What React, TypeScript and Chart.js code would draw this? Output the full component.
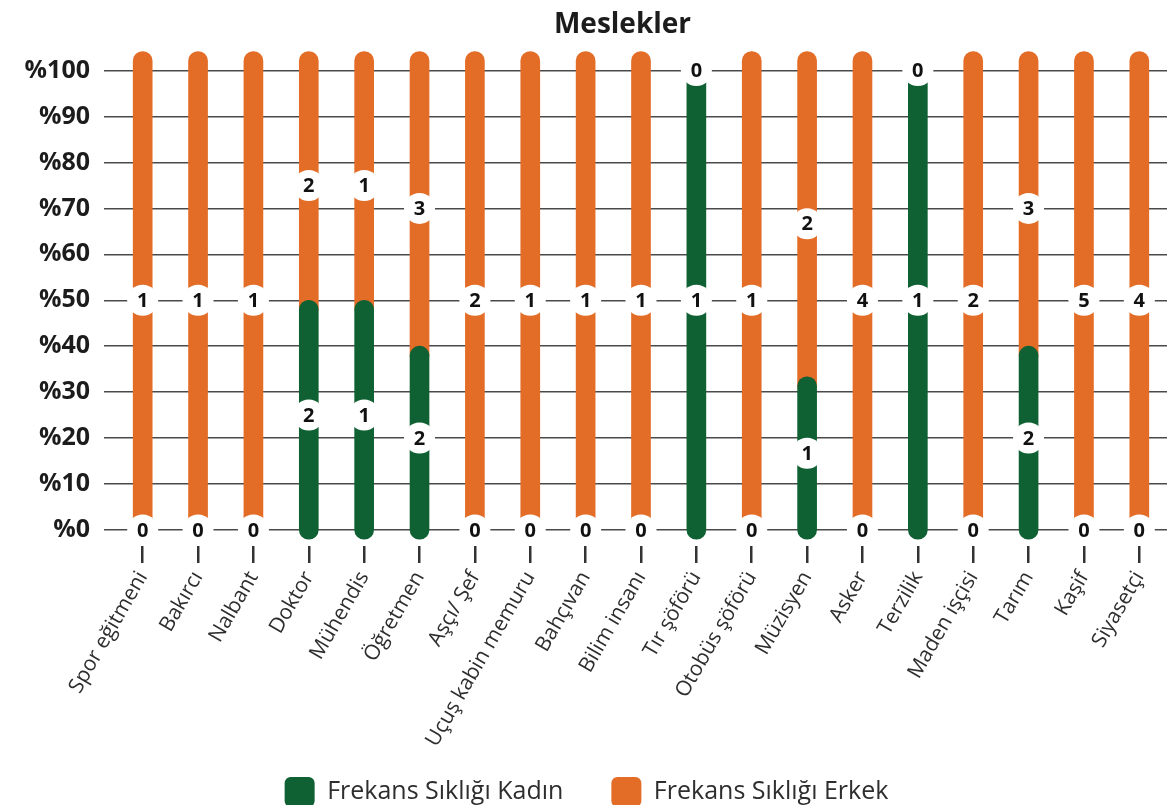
import React, { useEffect, useRef } from "react";
import { Chart, registerables } from "chart.js";

Chart.register(...registerables);

const categories = [
  "Spor eğitmeni",
  "Bakırcı",
  "Nalbant",
  "Doktor",
  "Mühendis",
  "Öğretmen",
  "Aşçı/ Şef",
  "Uçuş kabin memuru",
  "Bahçıvan",
  "Bilim insanı",
  "Tır şöförü",
  "Otobüs şöförü",
  "Müzisyen",
  "Asker",
  "Terzilik",
  "Maden işçisi",
  "Tarım",
  "Kaşif",
  "Siyasetçi",
];

const womenCounts = [0, 0, 0, 2, 1, 2, 0, 0, 0, 0, 1, 0, 1, 0, 1, 0, 2, 0, 0];
const menCounts = [1, 1, 1, 2, 1, 3, 2, 1, 1, 1, 0, 1, 2, 4, 0, 2, 3, 5, 4];

const yTickValues = [0, 10, 20, 30, 40, 50, 60, 70, 80, 90, 100];
const seriesLabels = ["Frekans Sıklığı Kadın", "Frekans Sıklığı Erkek"];
const chartTitle = "Meslekler";

const GREEN = "#0f6133";
const ORANGE = "#e36c26";
const TEXT = "#1c1c1c";
const SOFT_TEXT = "#2e2e2e";
const FONT = "'Open Sans', 'Noto Sans', sans-serif";

export default function App() {
  const canvasRef = useRef<HTMLCanvasElement>(null);

  useEffect(() => {
    if (!canvasRef.current) return;
    const totals = womenCounts.map((w, i) => w + menCounts[i]);
    const womenPct = womenCounts.map((w, i) => (totals[i] ? (w / totals[i]) * 100 : 0));
    const menPct = menCounts.map((m, i) => (totals[i] ? (m / totals[i]) * 100 : 0));

    const capPlugin = {
      id: "roundCaps",
      afterDatasetsUpdate(chart: any) {
        chart.data.datasets.forEach((ds: any, di: number) => {
          const meta = chart.getDatasetMeta(di);
          meta.data.forEach((el: any, i: number) => {
            if (!ds.data[i]) return;
            el.base += 10;
            if (di === 1) el.y -= 19;
          });
        });
      },
    };

    const layoutTweaks = {
      id: "layoutTweaks",
      afterLayout(chart: any) {
        const t = chart.titleBlock;
        if (t) t.left += 72;
        // let the rotated category labels run into the legend band, as in the original
        if (chart.scales.x) chart.scales.x.bottom = chart.height;
      },
    };

    const labelPlugin = {
      id: "segmentLabels",
      afterDatasetsDraw(chart: any) {
        const ctx = chart.ctx;
        const xs = chart.scales.x;
        const ys = chart.scales.y;
        ctx.save();
        ctx.font = `bold 20px ${FONT}`;
        ctx.textAlign = "center";
        ctx.textBaseline = "middle";
        categories.forEach((_, i) => {
          const x = xs.getPixelForValue(i);
          const segs: [number, number, number][] = [
            [0, womenPct[i], womenCounts[i]],
            [womenPct[i], menPct[i], menCounts[i]],
          ];
          segs.forEach(([start, pct, count]) => {
            const y = ys.getPixelForValue(start + pct / 2);
            ctx.beginPath();
            ctx.arc(x, y, 15.5, 0, Math.PI * 2);
            ctx.fillStyle = "#ffffff";
            ctx.fill();
            ctx.fillStyle = "#111111";
            ctx.fillText(String(count), x, y + 1);
          });
        });
        ctx.restore();
      },
    };

    const chart = new Chart(canvasRef.current, {
      type: "bar",
      data: {
        labels: categories,
        datasets: [
          {
            label: seriesLabels[0],
            data: womenPct,
            backgroundColor: GREEN,
            borderSkipped: false,
            borderRadius: { topLeft: 9.5, topRight: 9.5, bottomLeft: 9.5, bottomRight: 9.5 },
            barThickness: 19,
            clip: false,
          },
          {
            label: seriesLabels[1],
            data: menPct,
            backgroundColor: ORANGE,
            borderSkipped: false,
            borderRadius: { topLeft: 9.5, topRight: 9.5, bottomLeft: 0, bottomRight: 0 },
            barThickness: 19,
            clip: false,
          },
        ] as any,
      },
      options: {
        animation: false,
        responsive: true,
        maintainAspectRatio: false,
        layout: { padding: { left: 0, right: -6, top: 0, bottom: -12 } },
        plugins: {
          title: {
            display: true,
            text: chartTitle,
            color: TEXT,
            font: { family: FONT, size: 28, weight: "bold" },
            padding: { top: 8, bottom: 10 },
          },
          legend: {
            position: "bottom",
            labels: {
              color: SOFT_TEXT,
              font: { family: FONT, size: 25 },
              boxWidth: 30,
              boxHeight: 30,
              useBorderRadius: true,
              borderRadius: 6,
              padding: 48,
            },
          },
          tooltip: { enabled: false },
        },
        scales: {
          x: {
            stacked: true,
            grid: {
              offset: false,
              drawOnChartArea: false,
              drawTicks: true,
              tickLength: 17,
              color: "#333333",
              lineWidth: 2.5,
            },
            border: { display: false },
            ticks: {
              color: SOFT_TEXT,
              font: { family: FONT, size: 21 },
              minRotation: 60,
              maxRotation: 60,
              padding: 4,
            },
            afterFit(scale: any) {
              scale.height = 183;
            },
          },
          y: {
            stacked: true,
            min: -3.5,
            max: 104.14,
            afterBuildTicks(scale: any) {
              scale.ticks = yTickValues.map((v) => ({ value: v }));
            },
            grid: {
              color: "#4a4a4a",
              lineWidth: 1.5,
              tickLength: 11,
            },
            border: { display: false },
            ticks: {
              color: TEXT,
              font: { family: FONT, size: 25, weight: "bold" },
              padding: 14,
              callback: (v: any) => "%" + v,
            },
            afterFit(scale: any) {
              scale.width = 115;
            },
          },
        },
      },
      plugins: [capPlugin, layoutTweaks, labelPlugin],
    });

    return () => chart.destroy();
  }, []);

  return (
    <div style={{ position: "fixed", left: 0, top: 0, width: 1167, height: 805, background: "#ffffff" }}>
      <canvas ref={canvasRef} />
    </div>
  );
}
